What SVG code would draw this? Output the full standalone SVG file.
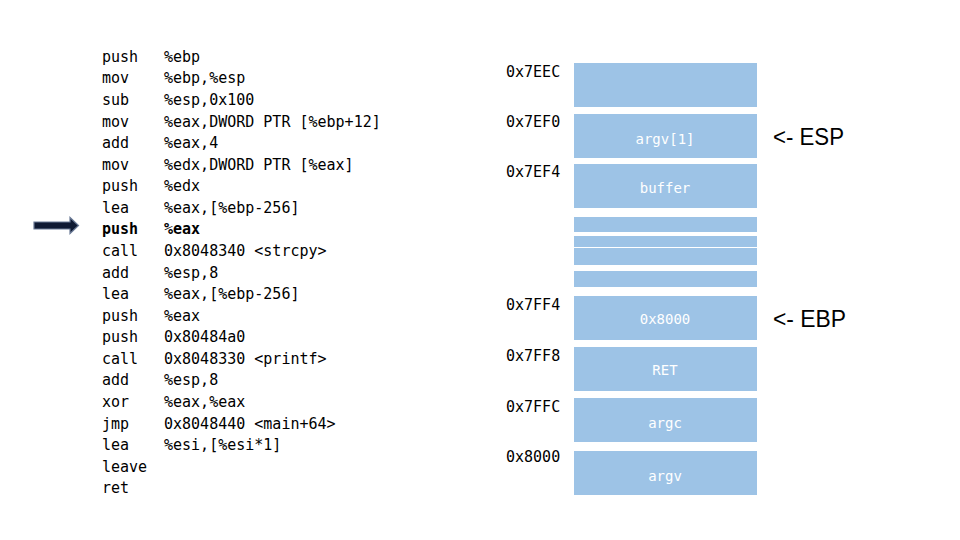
<svg xmlns="http://www.w3.org/2000/svg" width="960" height="540" viewBox="0 0 960 540">
<style>
.asm{font-family:"DejaVu Sans Mono","Liberation Mono",monospace;font-size:15px;fill:#000}
.b{font-weight:bold}
.addr{font-family:"DejaVu Sans Mono","Liberation Mono",monospace;font-size:15px;fill:#000}
.cell{fill:#9DC3E6}
.lbl{font-family:"DejaVu Sans Mono","Liberation Mono",monospace;font-size:14px;fill:#fff;text-anchor:middle}
.ptr{font-family:"Liberation Sans","DejaVu Sans",sans-serif;font-size:24px;fill:#000}
</style>
<rect width="960" height="540" fill="#fff"/>
<g id="code">
<text class="asm" x="102" y="62">push</text><text class="asm" x="164" y="62">%ebp</text>
<text class="asm" x="102" y="83.3">mov</text><text class="asm" x="164" y="83.3">%ebp,%esp</text>
<text class="asm" x="102" y="104.9">sub</text><text class="asm" x="164" y="104.9">%esp,0x100</text>
<text class="asm" x="102" y="126.5">mov</text><text class="asm" x="164" y="126.5">%eax,DWORD PTR [%ebp+12]</text>
<text class="asm" x="102" y="148">add</text><text class="asm" x="164" y="148">%eax,4</text>
<text class="asm" x="102" y="169.6">mov</text><text class="asm" x="164" y="169.6">%edx,DWORD PTR [%eax]</text>
<text class="asm" x="102" y="191.2">push</text><text class="asm" x="164" y="191.2">%edx</text>
<text class="asm" x="102" y="212.8">lea</text><text class="asm" x="164" y="212.8">%eax,[%ebp-256]</text>
<text class="asm b" x="102" y="234.3">push</text><text class="asm b" x="164" y="234.3">%eax</text>
<text class="asm" x="102" y="255.9">call</text><text class="asm" x="164" y="255.9">0x8048340 &lt;strcpy&gt;</text>
<text class="asm" x="102" y="277.5">add</text><text class="asm" x="164" y="277.5">%esp,8</text>
<text class="asm" x="102" y="299.1">lea</text><text class="asm" x="164" y="299.1">%eax,[%ebp-256]</text>
<text class="asm" x="102" y="320.7">push</text><text class="asm" x="164" y="320.7">%eax</text>
<text class="asm" x="102" y="342.2">push</text><text class="asm" x="164" y="342.2">0x80484a0</text>
<text class="asm" x="102" y="363.8">call</text><text class="asm" x="164" y="363.8">0x8048330 &lt;printf&gt;</text>
<text class="asm" x="102" y="385.4">add</text><text class="asm" x="164" y="385.4">%esp,8</text>
<text class="asm" x="102" y="407">xor</text><text class="asm" x="164" y="407">%eax,%eax</text>
<text class="asm" x="102" y="428.5">jmp</text><text class="asm" x="164" y="428.5">0x8048440 &lt;main+64&gt;</text>
<text class="asm" x="102" y="450.1">lea</text><text class="asm" x="164" y="450.1">%esi,[%esi*1]</text>
<text class="asm" x="102" y="471.7">leave</text>
<text class="asm" x="102" y="493.3">ret</text>
</g>
<g id="arrow">
<path d="M34 222 H70 V217.5 L78.5 225.5 L70 233.5 V229 H34 Z" fill="#0f1a33" stroke="#6a7a96" stroke-width="1.2"/>
</g>
<g id="stack">
<rect class="cell" x="574" y="63" width="183" height="44"/>
<rect class="cell" x="574" y="114" width="183" height="44"/>
<rect class="cell" x="574" y="164" width="183" height="44"/>
<rect class="cell" x="574" y="217" width="183" height="15"/>
<rect class="cell" x="574" y="236" width="183" height="11"/>
<rect class="cell" x="574" y="248" width="183" height="17"/>
<rect class="cell" x="574" y="271" width="183" height="16"/>
<rect class="cell" x="574" y="296" width="183" height="44"/>
<rect class="cell" x="574" y="347" width="183" height="44"/>
<rect class="cell" x="574" y="398" width="183" height="44"/>
<rect class="cell" x="574" y="451" width="183" height="44"/>
<text class="lbl" x="665" y="144">argv[1]</text>
<text class="lbl" x="665" y="193">buffer</text>
<text class="lbl" x="665" y="324">0x8000</text>
<text class="lbl" x="665" y="375">RET</text>
<text class="lbl" x="665" y="428">argc</text>
<text class="lbl" x="665" y="481">argv</text>
</g>
<g id="addresses">
<text class="addr" x="506" y="77">0x7EEC</text>
<text class="addr" x="506" y="127">0x7EF0</text>
<text class="addr" x="506" y="177">0x7EF4</text>
<text class="addr" x="506" y="310">0x7FF4</text>
<text class="addr" x="506" y="361">0x7FF8</text>
<text class="addr" x="506" y="412">0x7FFC</text>
<text class="addr" x="506" y="462">0x8000</text>
</g>
<g id="pointers">
<text class="ptr" x="773" y="145" textLength="71" lengthAdjust="spacingAndGlyphs">&lt;- ESP</text>
<text class="ptr" x="773" y="327" textLength="73" lengthAdjust="spacingAndGlyphs">&lt;- EBP</text>
</g>
</svg>
